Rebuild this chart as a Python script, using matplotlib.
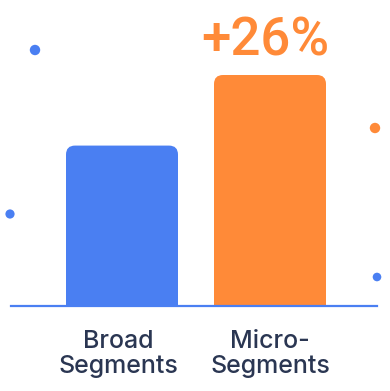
import matplotlib
matplotlib.use("Agg")
import matplotlib.pyplot as plt
from matplotlib.patches import FancyBboxPatch

categories = ["Broad\nSegments", "Micro-\nSegments"]
values = [1.0, 1.44]
bar_colors = ["#4A7FF2", "#FF8A38"]
annotation = "+26%"

# decorative dots (figure pixel coords, x, y-from-top, color, radius px)
dot_x = [35, 10, 375, 377]
dot_y = [50, 214, 128, 277]
dot_c = ["#4A7FF2", "#4A7FF2", "#FF8A38", "#4A7FF2"]
dot_s = [5.2, 4.6, 5.2, 4.3]

W, H = 390, 391
fig = plt.figure(figsize=(W / 100, H / 100), dpi=100)
fig.patch.set_facecolor("white")

# background axes for dots
bg = fig.add_axes([0, 0, 1, 1])
bg.set_xlim(0, W)
bg.set_ylim(H, 0)
bg.axis("off")
for x, y, c, r in zip(dot_x, dot_y, dot_c, dot_s):
    bg.scatter([x], [y], s=(r * 2 * 0.72) ** 2, color=c, edgecolors="none")

# main axes
base_px = 306
top_px = 75
left_px, right_px = 11, 377
c0, c1 = 122, 270
step = c1 - c0
xl = 0 - (c0 - left_px) / step
xr = 1 + (right_px - c1) / step
ymax = max(values)
ax = fig.add_axes([left_px / W, 1 - base_px / H, (right_px - left_px) / W, (base_px - top_px) / H])
ax.set_xlim(xl, xr)
ax.set_ylim(0, ymax)
ax.axis("off")

width = 112 / step
px_per_x = step
px_per_y = (base_px - top_px) / ymax
aspect = (1 / px_per_y) / (1 / px_per_x)
r = 9 / px_per_x
for i, (v, c) in enumerate(zip(values, bar_colors)):
    p = FancyBboxPatch((i - width / 2, -0.2), width, v + 0.2,
                       boxstyle=f"round,pad=0,rounding_size={r}",
                       mutation_aspect=aspect, facecolor=c, edgecolor="none",
                       clip_on=True)
    ax.add_patch(p)

ax.axhline(0, color="#4A7FF2", lw=1.6, clip_on=False, xmin=0, xmax=1)

ax.text(1 - 5 / step, ymax + 20 / px_per_y, annotation, ha="center", va="baseline",
        fontsize=38, fontweight="medium", family="Roboto", color="#FF8A38",
        clip_on=False)

for i, lab in enumerate(categories):
    ax.text(i - 4 / step if i == 0 else i, -24 / px_per_y, lab, ha="center", va="top",
            fontsize=18, fontweight="medium", family="Inter", color="#2A3652",
            linespacing=1.1, clip_on=False)

fig.savefig("out.png", dpi=100, facecolor="white")
